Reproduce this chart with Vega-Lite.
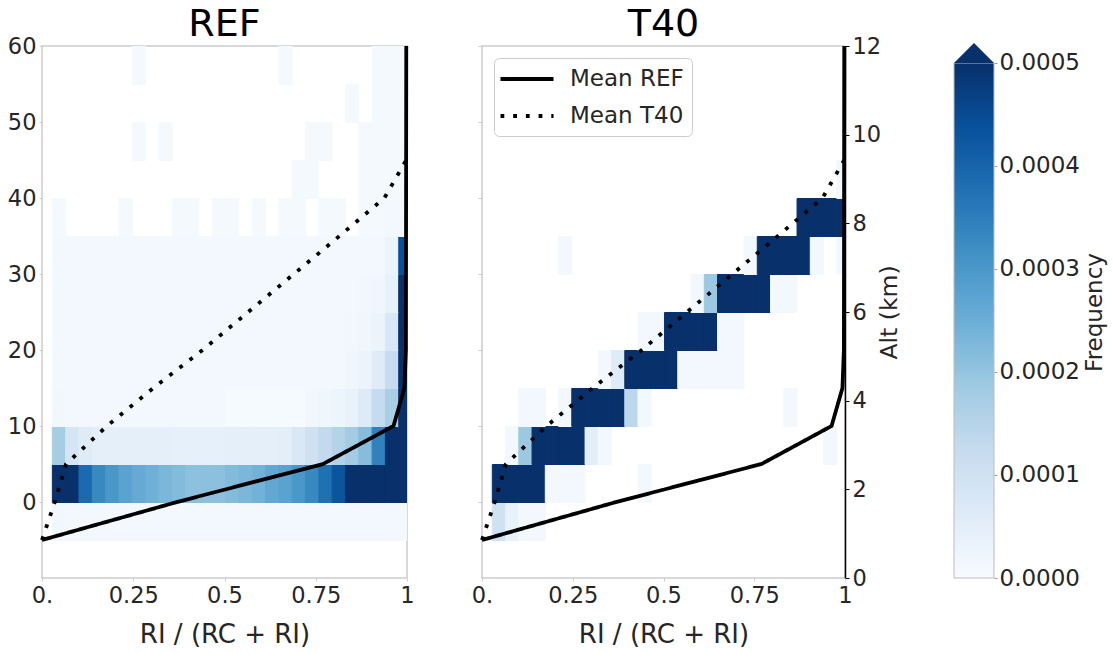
{
  "$schema": "https://vega.github.io/schema/vega-lite/v6.json",
  "background": "white",
  "padding": {"left": 6, "top": 5, "right": 2, "bottom": 0},
  "config": {
    "font": "DejaVu Sans",
    "view": {"stroke": "#cccccc", "strokeWidth": 1.5},
    "axis": {"labelFont": "DejaVu Sans", "labelFontSize": 22.5, "labelColor": "#262626", "titleFont": "DejaVu Sans", "titleFontWeight": "normal", "titleColor": "#262626", "grid": false, "domain": false, "tickColor": "#cccccc", "tickSize": 3, "labelPadding": 3},
    "title": {"font": "DejaVu Sans", "fontSize": 38, "fontWeight": "normal", "color": "black", "anchor": "middle", "offset": -9},
    "legend": {"labelFont": "DejaVu Sans"}
  },
  "datasets": {
    "ref": [
      {"x":0.027,"y":-5,"f":0.000014},{"x":0.0635,"y":-5,"f":0.00001},{"x":0.1,"y":-5,"f":0.00001},{"x":0.1365,"y":-5,"f":0.00001},{"x":0.173,"y":-5,"f":0.00001},{"x":0.2095,"y":-5,"f":0.00001},{"x":0.246,"y":-5,"f":0.00001},{"x":0.2825,"y":-5,"f":0.00001},{"x":0.319,"y":-5,"f":0.00001},{"x":0.3555,"y":-5,"f":0.00001},{"x":0.392,"y":-5,"f":0.00001},{"x":0.4285,"y":-5,"f":0.00001},{"x":0.465,"y":-5,"f":0.00001},{"x":0.5015,"y":-5,"f":0.00001},{"x":0.538,"y":-5,"f":0.00001},{"x":0.5745,"y":-5,"f":0.00001},{"x":0.611,"y":-5,"f":0.00001},{"x":0.6475,"y":-5,"f":0.00001},{"x":0.684,"y":-5,"f":0.00001},{"x":0.7205,"y":-5,"f":0.00001},{"x":0.757,"y":-5,"f":0.00001},{"x":0.7935,"y":-5,"f":0.00001},{"x":0.83,"y":-5,"f":0.00001},{"x":0.8665,"y":-5,"f":0.00001},{"x":0.903,"y":-5,"f":0.00001},{"x":0.9395,"y":-5,"f":0.00001},{"x":0.976,"y":-5,"f":0.00001},
      {"x":0.027,"y":0,"f":0.0006},{"x":0.0635,"y":0,"f":0.0006},{"x":0.1,"y":0,"f":0.00039},{"x":0.1365,"y":0,"f":0.00033},{"x":0.173,"y":0,"f":0.0003},{"x":0.2095,"y":0,"f":0.000276},{"x":0.246,"y":0,"f":0.000258},{"x":0.2825,"y":0,"f":0.000245},{"x":0.319,"y":0,"f":0.00023},{"x":0.3555,"y":0,"f":0.00022},{"x":0.392,"y":0,"f":0.00021},{"x":0.4285,"y":0,"f":0.00021},{"x":0.465,"y":0,"f":0.00021},{"x":0.5015,"y":0,"f":0.00022},{"x":0.538,"y":0,"f":0.00023},{"x":0.5745,"y":0,"f":0.00024},{"x":0.611,"y":0,"f":0.000264},{"x":0.6475,"y":0,"f":0.000276},{"x":0.684,"y":0,"f":0.0003},{"x":0.7205,"y":0,"f":0.00033},{"x":0.757,"y":0,"f":0.000377},{"x":0.7935,"y":0,"f":0.00043},{"x":0.83,"y":0,"f":0.0006},{"x":0.8665,"y":0,"f":0.0006},{"x":0.903,"y":0,"f":0.0006},{"x":0.9395,"y":0,"f":0.0006},{"x":0.976,"y":0,"f":0.0006},
      {"x":0.027,"y":5,"f":0.000175},{"x":0.0635,"y":5,"f":0.000086},{"x":0.1,"y":5,"f":0.00006},{"x":0.1365,"y":5,"f":0.000045},{"x":0.173,"y":5,"f":0.000045},{"x":0.2095,"y":5,"f":0.000045},{"x":0.246,"y":5,"f":0.000045},{"x":0.2825,"y":5,"f":0.000045},{"x":0.319,"y":5,"f":0.000045},{"x":0.3555,"y":5,"f":0.000042},{"x":0.392,"y":5,"f":0.000042},{"x":0.4285,"y":5,"f":0.000042},{"x":0.465,"y":5,"f":0.000042},{"x":0.5015,"y":5,"f":0.000045},{"x":0.538,"y":5,"f":0.000045},{"x":0.5745,"y":5,"f":0.000045},{"x":0.611,"y":5,"f":0.000045},{"x":0.6475,"y":5,"f":0.00005},{"x":0.684,"y":5,"f":0.000073},{"x":0.7205,"y":5,"f":0.0001},{"x":0.757,"y":5,"f":0.000131},{"x":0.7935,"y":5,"f":0.000153},{"x":0.83,"y":5,"f":0.00018},{"x":0.8665,"y":5,"f":0.000216},{"x":0.903,"y":5,"f":0.000345},{"x":0.9395,"y":5,"f":0.0006},{"x":0.976,"y":5,"f":0.0006},
      {"x":0.027,"y":10,"f":0.000014},{"x":0.0635,"y":10,"f":0.00001},{"x":0.1,"y":10,"f":0.00001},{"x":0.1365,"y":10,"f":0.00001},{"x":0.173,"y":10,"f":0.00001},{"x":0.2095,"y":10,"f":0.00001},{"x":0.246,"y":10,"f":0.00001},{"x":0.2825,"y":10,"f":0.00001},{"x":0.319,"y":10,"f":0.00001},{"x":0.3555,"y":10,"f":0.00001},{"x":0.392,"y":10,"f":0.00001},{"x":0.4285,"y":10,"f":0.00001},{"x":0.465,"y":10,"f":0.00001},{"x":0.5015,"y":10,"f":0.000005},{"x":0.538,"y":10,"f":0.000005},{"x":0.5745,"y":10,"f":0.000005},{"x":0.611,"y":10,"f":0.000005},{"x":0.6475,"y":10,"f":0.000005},{"x":0.684,"y":10,"f":0.000005},{"x":0.7205,"y":10,"f":0.000015},{"x":0.757,"y":10,"f":0.00002},{"x":0.7935,"y":10,"f":0.000025},{"x":0.83,"y":10,"f":0.000035},{"x":0.8665,"y":10,"f":0.000065},{"x":0.903,"y":10,"f":0.000125},{"x":0.9395,"y":10,"f":0.00017},{"x":0.976,"y":10,"f":0.0006},
      {"x":0.027,"y":15,"f":0.00001},{"x":0.0635,"y":15,"f":0.00001},{"x":0.1,"y":15,"f":0.00001},{"x":0.1365,"y":15,"f":0.00001},{"x":0.173,"y":15,"f":0.00001},{"x":0.2095,"y":15,"f":0.00001},{"x":0.246,"y":15,"f":0.00001},{"x":0.2825,"y":15,"f":0.00001},{"x":0.319,"y":15,"f":0.00001},{"x":0.3555,"y":15,"f":0.00001},{"x":0.392,"y":15,"f":0.00001},{"x":0.4285,"y":15,"f":0.00001},{"x":0.465,"y":15,"f":0.00001},{"x":0.5015,"y":15,"f":0.00001},{"x":0.538,"y":15,"f":0.00001},{"x":0.5745,"y":15,"f":0.00001},{"x":0.611,"y":15,"f":0.00001},{"x":0.6475,"y":15,"f":0.00001},{"x":0.684,"y":15,"f":0.00001},{"x":0.7205,"y":15,"f":0.00001},{"x":0.757,"y":15,"f":0.00001},{"x":0.7935,"y":15,"f":0.00001},{"x":0.83,"y":15,"f":0.00002},{"x":0.8665,"y":15,"f":0.00003},{"x":0.903,"y":15,"f":0.00006},{"x":0.9395,"y":15,"f":0.00012},{"x":0.976,"y":15,"f":0.0006},
      {"x":0.027,"y":20,"f":0.00001},{"x":0.0635,"y":20,"f":0.00001},{"x":0.1,"y":20,"f":0.00001},{"x":0.1365,"y":20,"f":0.00001},{"x":0.173,"y":20,"f":0.00001},{"x":0.2095,"y":20,"f":0.00001},{"x":0.246,"y":20,"f":0.00001},{"x":0.2825,"y":20,"f":0.00001},{"x":0.319,"y":20,"f":0.00001},{"x":0.3555,"y":20,"f":0.00001},{"x":0.392,"y":20,"f":0.00001},{"x":0.4285,"y":20,"f":0.00001},{"x":0.465,"y":20,"f":0.00001},{"x":0.5015,"y":20,"f":0.00001},{"x":0.538,"y":20,"f":0.00001},{"x":0.5745,"y":20,"f":0.00001},{"x":0.611,"y":20,"f":0.00001},{"x":0.6475,"y":20,"f":0.00001},{"x":0.684,"y":20,"f":0.00001},{"x":0.7205,"y":20,"f":0.00001},{"x":0.757,"y":20,"f":0.00001},{"x":0.7935,"y":20,"f":0.00001},{"x":0.83,"y":20,"f":0.000015},{"x":0.8665,"y":20,"f":0.00002},{"x":0.903,"y":20,"f":0.00003},{"x":0.9395,"y":20,"f":0.00008},{"x":0.976,"y":20,"f":0.0006},
      {"x":0.027,"y":25,"f":0.00001},{"x":0.0635,"y":25,"f":0.00001},{"x":0.1,"y":25,"f":0.00001},{"x":0.1365,"y":25,"f":0.00001},{"x":0.173,"y":25,"f":0.00001},{"x":0.2095,"y":25,"f":0.00001},{"x":0.246,"y":25,"f":0.00001},{"x":0.2825,"y":25,"f":0.00001},{"x":0.319,"y":25,"f":0.00001},{"x":0.3555,"y":25,"f":0.00001},{"x":0.392,"y":25,"f":0.00001},{"x":0.4285,"y":25,"f":0.00001},{"x":0.465,"y":25,"f":0.00001},{"x":0.5015,"y":25,"f":0.00001},{"x":0.538,"y":25,"f":0.00001},{"x":0.5745,"y":25,"f":0.00001},{"x":0.611,"y":25,"f":0.00001},{"x":0.6475,"y":25,"f":0.00001},{"x":0.684,"y":25,"f":0.00001},{"x":0.7205,"y":25,"f":0.00001},{"x":0.757,"y":25,"f":0.00001},{"x":0.7935,"y":25,"f":0.00001},{"x":0.83,"y":25,"f":0.00001},{"x":0.8665,"y":25,"f":0.000015},{"x":0.903,"y":25,"f":0.00002},{"x":0.9395,"y":25,"f":0.00004},{"x":0.976,"y":25,"f":0.0006},
      {"x":0.027,"y":30,"f":0.00001},{"x":0.0635,"y":30,"f":0.00001},{"x":0.1,"y":30,"f":0.00001},{"x":0.1365,"y":30,"f":0.00001},{"x":0.173,"y":30,"f":0.00001},{"x":0.2095,"y":30,"f":0.00001},{"x":0.246,"y":30,"f":0.00001},{"x":0.2825,"y":30,"f":0.00001},{"x":0.319,"y":30,"f":0.00001},{"x":0.3555,"y":30,"f":0.00001},{"x":0.392,"y":30,"f":0.00001},{"x":0.4285,"y":30,"f":0.00001},{"x":0.465,"y":30,"f":0.00001},{"x":0.5015,"y":30,"f":0.00001},{"x":0.538,"y":30,"f":0.00001},{"x":0.5745,"y":30,"f":0.00001},{"x":0.611,"y":30,"f":0.00001},{"x":0.6475,"y":30,"f":0.00001},{"x":0.684,"y":30,"f":0.00001},{"x":0.7205,"y":30,"f":0.00001},{"x":0.757,"y":30,"f":0.00001},{"x":0.7935,"y":30,"f":0.00001},{"x":0.83,"y":30,"f":0.00001},{"x":0.8665,"y":30,"f":0.00001},{"x":0.903,"y":30,"f":0.000012},{"x":0.9395,"y":30,"f":0.00003},{"x":0.976,"y":30,"f":0.00044},
      {"x":0.027,"y":35,"f":0.000008},{"x":0.2095,"y":35,"f":0.000008},{"x":0.3555,"y":35,"f":0.000008},{"x":0.392,"y":35,"f":0.000008},{"x":0.465,"y":35,"f":0.000008},{"x":0.5015,"y":35,"f":0.000008},{"x":0.5745,"y":35,"f":0.000008},{"x":0.6475,"y":35,"f":0.000008},{"x":0.684,"y":35,"f":0.000008},{"x":0.757,"y":35,"f":0.000008},{"x":0.7935,"y":35,"f":0.000008},{"x":0.8665,"y":35,"f":0.000008},{"x":0.903,"y":35,"f":0.000008},{"x":0.9395,"y":35,"f":0.00001},{"x":0.976,"y":35,"f":0.00001},
      {"x":0.684,"y":40,"f":0.000008},{"x":0.7205,"y":40,"f":0.000008},{"x":0.8665,"y":40,"f":0.000008},{"x":0.903,"y":40,"f":0.000008},{"x":0.9395,"y":40,"f":0.000008},{"x":0.976,"y":40,"f":0.000008},
      {"x":0.246,"y":45,"f":0.000008},{"x":0.319,"y":45,"f":0.000008},{"x":0.7205,"y":45,"f":0.000008},{"x":0.757,"y":45,"f":0.000008},{"x":0.8665,"y":45,"f":0.000008},{"x":0.903,"y":45,"f":0.000008},{"x":0.9395,"y":45,"f":0.000008},{"x":0.976,"y":45,"f":0.000008},
      {"x":0.83,"y":50,"f":0.000008},{"x":0.903,"y":50,"f":0.000008},{"x":0.9395,"y":50,"f":0.000008},{"x":0.976,"y":50,"f":0.000008},
      {"x":0.246,"y":55,"f":0.000008},{"x":0.6475,"y":55,"f":0.000008},{"x":0.903,"y":55,"f":0.000008},{"x":0.9395,"y":55,"f":0.000008},{"x":0.976,"y":55,"f":0.000008}
    ],
    "t40": [
      {"x":0.027,"y":-5,"f":0.0001},{"x":0.0635,"y":-5,"f":0.00004},{"x":0.1,"y":-5,"f":0.00001},{"x":0.1365,"y":-5,"f":0.00001},
      {"x":0.027,"y":0,"f":0.0006},{"x":0.0635,"y":0,"f":0.0006},{"x":0.1,"y":0,"f":0.0006},{"x":0.1365,"y":0,"f":0.0006},{"x":0.173,"y":0,"f":0.000012},{"x":0.2095,"y":0,"f":0.00001},{"x":0.246,"y":0,"f":0.00001},{"x":0.4285,"y":0,"f":0.00001},
      {"x":0.0635,"y":5,"f":0.00001},{"x":0.1,"y":5,"f":0.00019},{"x":0.1365,"y":5,"f":0.0006},{"x":0.173,"y":5,"f":0.0006},{"x":0.2095,"y":5,"f":0.0006},{"x":0.246,"y":5,"f":0.0006},{"x":0.2825,"y":5,"f":0.00005},{"x":0.319,"y":5,"f":0.00001},{"x":0.9395,"y":5,"f":0.00001},
      {"x":0.1,"y":10,"f":0.00001},{"x":0.1365,"y":10,"f":0.00001},{"x":0.2095,"y":10,"f":0.00001},{"x":0.246,"y":10,"f":0.0006},{"x":0.2825,"y":10,"f":0.0006},{"x":0.319,"y":10,"f":0.0006},{"x":0.3555,"y":10,"f":0.0006},{"x":0.392,"y":10,"f":0.00014},{"x":0.4285,"y":10,"f":0.00001},{"x":0.83,"y":10,"f":0.00001},
      {"x":0.319,"y":15,"f":0.00001},{"x":0.3555,"y":15,"f":0.00006},{"x":0.392,"y":15,"f":0.0006},{"x":0.4285,"y":15,"f":0.0006},{"x":0.465,"y":15,"f":0.0006},{"x":0.5015,"y":15,"f":0.0006},{"x":0.538,"y":15,"f":0.00001},{"x":0.5745,"y":15,"f":0.00001},{"x":0.611,"y":15,"f":0.00001},{"x":0.6475,"y":15,"f":0.00001},{"x":0.684,"y":15,"f":0.00001},
      {"x":0.4285,"y":20,"f":0.00001},{"x":0.465,"y":20,"f":0.00001},{"x":0.5015,"y":20,"f":0.0006},{"x":0.538,"y":20,"f":0.0006},{"x":0.5745,"y":20,"f":0.0006},{"x":0.611,"y":20,"f":0.0006},{"x":0.6475,"y":20,"f":0.00001},{"x":0.684,"y":20,"f":0.00001},
      {"x":0.5745,"y":25,"f":0.00001},{"x":0.611,"y":25,"f":0.00019},{"x":0.6475,"y":25,"f":0.0006},{"x":0.684,"y":25,"f":0.0006},{"x":0.7205,"y":25,"f":0.0006},{"x":0.757,"y":25,"f":0.0006},{"x":0.7935,"y":25,"f":0.00001},{"x":0.83,"y":25,"f":0.00001},
      {"x":0.2095,"y":30,"f":0.00001},{"x":0.7205,"y":30,"f":0.00001},{"x":0.757,"y":30,"f":0.0006},{"x":0.7935,"y":30,"f":0.0006},{"x":0.83,"y":30,"f":0.0006},{"x":0.8665,"y":30,"f":0.0006},{"x":0.903,"y":30,"f":0.00001},{"x":0.976,"y":30,"f":0.00001},
      {"x":0.8665,"y":35,"f":0.0006},{"x":0.903,"y":35,"f":0.0006},{"x":0.9395,"y":35,"f":0.0006},{"x":0.976,"y":35,"f":0.0006},
      {"x":0.976,"y":40,"f":0.00001}
    ],
    "means": [
      {"s":"Mean REF","i":0,"x":0,"y":-5},{"s":"Mean REF","i":1,"x":0.37,"y":0},{"s":"Mean REF","i":2,"x":0.77,"y":5},{"s":"Mean REF","i":3,"x":0.963,"y":10},{"s":"Mean REF","i":4,"x":0.993,"y":15},{"s":"Mean REF","i":5,"x":0.997,"y":20},{"s":"Mean REF","i":6,"x":0.998,"y":60},
      {"s":"Mean T40","i":0,"x":0,"y":-5},{"s":"Mean T40","i":1,"x":0.035,"y":0},{"s":"Mean T40","i":2,"x":0.066,"y":5},{"s":"Mean T40","i":3,"x":0.178,"y":10},{"s":"Mean T40","i":4,"x":0.305,"y":15},{"s":"Mean T40","i":5,"x":0.44,"y":20},{"s":"Mean T40","i":6,"x":0.565,"y":25},{"s":"Mean T40","i":7,"x":0.69,"y":30},{"s":"Mean T40","i":8,"x":0.815,"y":35},{"s":"Mean T40","i":9,"x":0.938,"y":40},{"s":"Mean T40","i":10,"x":0.998,"y":45}
    ],
    "bar": [{"lo": 0, "hi": 0.0005}]
  },
  "hconcat": [
    {
      "hconcat": [
        {
          "title": "REF",
          "width": 365,
          "height": 532,
          "layer": [
            {
              "data": {"name": "ref"},
              "mark": {"type": "rect", "clip": true, "strokeWidth": 1},
              "encoding": {
                "x": {"field": "x", "type": "quantitative", "bin": {"binned": true, "step": 0.0365}, "title": "RI / (RC + RI)",
                  "scale": {"domain": [0, 1], "nice": false, "zero": false},
                  "axis": {"values": [0, 0.25, 0.5, 0.75, 1], "labelExpr": "datum.value === 0 ? '0.' : toString(datum.value)", "titleFontSize": 26, "titlePadding": 15, "labelFlush": false}},
                "y": {"field": "y", "type": "quantitative", "bin": {"binned": true, "step": 5}, "title": null,
                  "scale": {"domain": [-10, 60], "nice": false, "zero": false},
                  "axis": {"values": [0, 10, 20, 30, 40, 50, 60], "labelExpr": "toString(datum.value)", "labelFlush": false}},
                "color": {"field": "f", "type": "quantitative", "legend": null,
                  "scale": {"type": "linear", "domain": [0, 0.0000625, 0.000125, 0.0001875, 0.00025, 0.0003125, 0.000375, 0.0004375, 0.0005],
                    "range": ["#f7fbff", "#deebf7", "#c6dbef", "#9ecae1", "#6baed6", "#4292c6", "#2171b5", "#08519c", "#08306b"], "clamp": true, "interpolate": "rgb"}},
                "stroke": {"field": "f", "type": "quantitative", "legend": null,
                  "scale": {"type": "linear", "domain": [0, 0.0000625, 0.000125, 0.0001875, 0.00025, 0.0003125, 0.000375, 0.0004375, 0.0005],
                    "range": ["#f7fbff", "#deebf7", "#c6dbef", "#9ecae1", "#6baed6", "#4292c6", "#2171b5", "#08519c", "#08306b"], "clamp": true, "interpolate": "rgb"}}
              }
            },
            {
              "data": {"name": "means"},
              "mark": {"type": "line", "strokeWidth": 3.8, "strokeCap": "butt", "color": "black"},
              "encoding": {
                "x": {"field": "x", "type": "quantitative", "title": "RI / (RC + RI)"},
                "y": {"field": "y", "type": "quantitative", "title": null},
                "order": {"field": "i", "type": "quantitative"},
                "strokeDash": {"field": "s", "type": "nominal", "legend": null,
                  "scale": {"domain": ["Mean REF", "Mean T40"], "range": [[1, 0], [3.8, 8.9]]}}
              }
            }
          ]
        },
        {
          "title": "T40",
          "width": 363,
          "height": 532,
          "layer": [
            {
              "data": {"name": "t40"},
              "mark": {"type": "rect", "clip": true, "strokeWidth": 1},
              "encoding": {
                "x": {"field": "x", "type": "quantitative", "bin": {"binned": true, "step": 0.0365}, "title": "RI / (RC + RI)",
                  "scale": {"domain": [0, 1], "nice": false, "zero": false},
                  "axis": {"values": [0, 0.25, 0.5, 0.75, 1], "labelExpr": "datum.value === 0 ? '0.' : toString(datum.value)", "titleFontSize": 26, "titlePadding": 15, "labelFlush": false}},
                "y": {"field": "y", "type": "quantitative", "bin": {"binned": true, "step": 5}, "title": null,
                  "scale": {"domain": [-10, 60], "nice": false, "zero": false},
                  "axis": {"values": [0, 10, 20, 30, 40, 50, 60], "labels": false, "tickSize": 4}},
                "color": {"field": "f", "type": "quantitative", "legend": null,
                  "scale": {"type": "linear", "domain": [0, 0.0000625, 0.000125, 0.0001875, 0.00025, 0.0003125, 0.000375, 0.0004375, 0.0005],
                    "range": ["#f7fbff", "#deebf7", "#c6dbef", "#9ecae1", "#6baed6", "#4292c6", "#2171b5", "#08519c", "#08306b"], "clamp": true, "interpolate": "rgb"}},
                "stroke": {"field": "f", "type": "quantitative", "legend": null,
                  "scale": {"type": "linear", "domain": [0, 0.0000625, 0.000125, 0.0001875, 0.00025, 0.0003125, 0.000375, 0.0004375, 0.0005],
                    "range": ["#f7fbff", "#deebf7", "#c6dbef", "#9ecae1", "#6baed6", "#4292c6", "#2171b5", "#08519c", "#08306b"], "clamp": true, "interpolate": "rgb"}}
              }
            },
            {
              "data": {"name": "means"},
              "mark": {"type": "line", "strokeWidth": 3.8, "strokeCap": "butt", "color": "black"},
              "encoding": {
                "x": {"field": "x", "type": "quantitative", "title": "RI / (RC + RI)"},
                "y": {"field": "y", "type": "quantitative", "title": "Alt (km)",
                  "axis": {"orient": "right", "values": [-10, 1.6666667, 13.3333333, 25, 36.6666667, 48.3333333, 60],
                    "labelExpr": "format((datum.value + 10) * 12 / 70, '.0f')", "labelFlush": false,
                    "domain": true, "domainColor": "black", "domainWidth": 1.5, "tickColor": "black", "tickSize": 4,
                    "titleAngle": 270, "titleBaseline": "top", "titleFontSize": 23.5, "titlePadding": -3}},
                "order": {"field": "i", "type": "quantitative"},
                "strokeDash": {"field": "s", "type": "nominal", "title": null,
                  "scale": {"domain": ["Mean REF", "Mean T40"], "range": [[1, 0], [3.8, 8.9]]},
                  "legend": {"orient": "top-left", "offset": 12, "title": null, "symbolType": "M-2.5,0L2.5,0", "symbolSize": 450,
                    "symbolStrokeWidth": 3.8, "symbolStrokeColor": "black", "symbolOffset": 12, "labelOffset": 30,
                    "labelFontSize": 23, "labelColor": "#262626", "strokeColor": "#cccccc", "fillColor": "white",
                    "cornerRadius": 5, "padding": 8, "rowPadding": 12}}
              }
            }
          ],
          "resolve": {"axis": {"y": "independent"}}
        }
      ],
      "spacing": 55,
      "resolve": {"scale": {"x": "independent", "y": "independent", "strokeDash": "independent"}, "legend": {"strokeDash": "independent"}}
    },
    {
      "width": 40,
      "height": 532,
      "view": {"stroke": null},
      "data": {"name": "bar"},
      "layer": [
        {
          "mark": {"type": "rect", "stroke": "#bbbbbb", "strokeWidth": 1,
            "fill": {"gradient": "linear", "x1": 0, "y1": 1, "x2": 0, "y2": 0,
              "stops": [{"offset": 0, "color": "#f7fbff"}, {"offset": 0.125, "color": "#deebf7"}, {"offset": 0.25, "color": "#c6dbef"}, {"offset": 0.375, "color": "#9ecae1"}, {"offset": 0.5, "color": "#6baed6"}, {"offset": 0.625, "color": "#4292c6"}, {"offset": 0.75, "color": "#2171b5"}, {"offset": 0.875, "color": "#08519c"}, {"offset": 1, "color": "#08306b"}]}},
          "encoding": {
            "y": {"field": "lo", "type": "quantitative", "title": "Frequency",
              "scale": {"domain": [0, 0.0005165], "nice": false, "zero": true},
              "axis": {"orient": "right", "values": [0, 0.0001, 0.0002, 0.0003, 0.0004, 0.0005], "format": ".4f", "labelFontSize": 23,
                "labelFlush": false, "tickSize": 3, "tickColor": "#999999", "labelPadding": 2, "titleAngle": 270, "titleBaseline": "top", "titleFontSize": 23, "titlePadding": 4}},
            "y2": {"field": "hi"}
          }
        },
        {
          "mark": {"type": "point", "shape": "M-1,0L0,-1L1,0Z", "size": 1600, "filled": true, "color": "#08306b", "opacity": 1, "clip": false},
          "encoding": {
            "y": {"field": "hi", "type": "quantitative", "title": "Frequency"}
          }
        }
      ]
    }
  ],
  "spacing": 51
}
